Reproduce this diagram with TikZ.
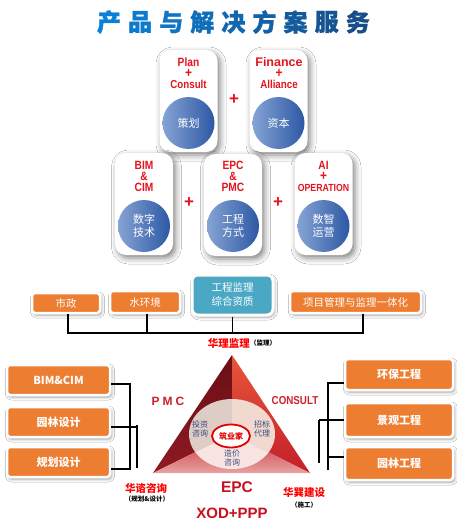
\documentclass[tikz,border=0pt]{standalone}
\usepackage{fontspec}
\setmainfont{Liberation Sans}
\newfontfamily\cjk{Noto Sans CJK SC}
\newfontfamily\cjkh[BoldFeatures={FakeBold=1.2}]{Noto Sans CJK SC}
\newfontfamily\cond[FakeStretch=0.85]{Liberation Sans}
\usetikzlibrary{shadows.blur,shapes.geometric}
\definecolor{cardred}{HTML}{E3151E}
\definecolor{tA}{HTML}{0B80D6}
\definecolor{tB}{HTML}{174E8A}
\definecolor{ballL}{HTML}{86A3D4}
\definecolor{ballR}{HTML}{2C58A4}
\definecolor{orangeC}{HTML}{ED7D31}
\definecolor{tealC}{HTML}{4BA8C4}
\definecolor{triL}{HTML}{8E1A22}
\definecolor{triLt}{HTML}{6A0E16}
\definecolor{triR}{HTML}{C41F2A}
\definecolor{triRt}{HTML}{E8553A}
\definecolor{triB}{HTML}{C52A33}
\definecolor{triBb}{HTML}{E9A2A2}
\definecolor{secL}{HTML}{DDCDC6}
\definecolor{secR}{HTML}{F1D9CF}
\definecolor{secB}{HTML}{F8E5E1}
\definecolor{innerTxt}{HTML}{3C4A7E}
\definecolor{darkred}{HTML}{C8101E}
\definecolor{pmcred}{HTML}{D0202A}
\newcommand{\cplus}{{\fontsize{14}{11}\selectfont\bfseries +}}
\begin{document}
\begin{tikzpicture}[x=1pt,y=-1pt,
  card/.style={fill=white, rounded corners=11pt, minimum width=58pt, minimum height=102pt, inner sep=0pt,
    blur shadow={shadow xshift=2.5pt, shadow yshift=-3pt, shadow blur radius=6pt, shadow opacity=50}},
  ball/.style={circle, minimum size=52pt, inner sep=0pt, left color=ballL, right color=ballR,
    text=white, font=\cjk\fontsize{11}{12.5}\selectfont, align=center},
  cardtxt/.style={text=cardred, font=\cond\bfseries\fontsize{12}{11}\selectfont, inner sep=0pt, align=center},
  plus/.style={text=cardred, font=\bfseries\fontsize{17}{17}\selectfont, inner sep=0pt},
  obox/.style={fill=orangeC, draw=white, line width=2.5pt, rounded corners=3pt, inner sep=0pt,
    text=white, font=\cjk\fontsize{10.5}{12}\selectfont,
    blur shadow={shadow xshift=1.5pt, shadow yshift=-2pt, shadow blur radius=3pt, shadow opacity=40}},
  sbox/.style={obox, font=\cjk\bfseries\fontsize{11}{12}\selectfont},
  conn/.style={draw=black, line width=1.6pt},
  redlbl/.style={text=red, font=\cjk\bfseries\fontsize{10.5}{12}\selectfont, inner sep=0pt},
  smalllbl/.style={text=black, font=\cjk\bfseries\fontsize{6.5}{7}\selectfont, inner sep=0pt},
  intxt/.style={text=innerTxt, font=\cjk\fontsize{8}{8.8}\selectfont, align=center, inner sep=0pt}
]
\fill[white] (0,0) rectangle (457,524);
\useasboundingbox (0,0) rectangle (457,524);

% title
\foreach \c [count=\i from 0] in {产,品,与,解,决,方,案,服,务}{
  \pgfmathsetmacro\p{100-12.5*\i}
  \node[text=tA!\p!tB, font=\cjkh\bfseries\fontsize{24}{24}\selectfont, inner sep=0pt] (t\i) at (109+31.1*\i,22) {\c};
}

% top row cards
\node[card] (c1) at (188.5,101) {};
\node[card] (c2) at (278.5,101) {};
\node[ball] (b1) at (188.5,123) {策划};
\node[ball] (b2) at (278.5,123) {资本};
\node[cardtxt] (c1t) at (188.5,73) {Plan\\\cplus\\{\fontsize{11.5}{11}\selectfont Consult}};
\node[cardtxt] (c2t) at (279,73) {{\bfseries\fontsize{12.5}{11}\selectfont\normalfont\bfseries Finance}\\\cplus\\{\fontsize{11.5}{11}\selectfont Alliance}};
\node[plus] (p0) at (234,100) {+};

% second row cards
\node[card] (d1) at (144,204) {};
\node[card] (d2) at (233,205) {};
\node[card] (d3) at (323.5,204) {};
\node[ball] (e1) at (144,226) {数字\\技术};
\node[ball] (e2) at (233,226) {工程\\方式};
\node[ball] (e3) at (323.5,226) {数智\\运营};
\node[cardtxt] (d1t) at (144,176) {BIM\\\&\\CIM};
\node[cardtxt] (d2t) at (233,176) {EPC\\\&\\PMC};
\node[cardtxt] (d3t) at (323.5,176) {AI\\\cplus\\{\fontsize{10.3}{11}\selectfont OPERATION}};
\node[plus] (p1) at (189,203) {+};
\node[plus] (p2) at (278,203) {+};

% band boxes
\node[obox, minimum width=68pt, minimum height=20pt] (sz) at (66,303) {市政};
\node[obox, minimum width=70pt, minimum height=22pt] (shj) at (145,302) {水环境};
\node[obox, fill=tealC, rounded corners=6pt, line width=3pt, minimum width=81pt, minimum height=40pt,
  align=center, font=\cjk\fontsize{10.5}{14}\selectfont] (gc) at (232.5,295) {工程监理\\综合资质};
\node[obox, minimum width=131pt, minimum height=22pt] (xm) at (355.5,302) {项目管理与监理一体化};

\coordinate (h1) at (68,333);
\coordinate (h2) at (147,333);
\coordinate (h3) at (363,333);
\draw[conn] (h1 |- sz.south) -- (h1);
\draw[conn] (h2 |- shj.south) -- (h2);
\draw[conn] (gc.south) -- (gc.south |- h1);
\draw[conn] (h3 |- xm.south) -- (h3);
\draw[conn, line cap=rect] (h1) -- (h3);

\node[redlbl, anchor=east] (hl) at (250,343) {华理监理};
\node[smalllbl, anchor=west] (hls) at (hl.east) {（监理）};

% triangle
\coordinate (A) at (232,355);
\coordinate (B) at (153,473);
\coordinate (C) at (310,473);
\coordinate (O) at (232,434);
\shade[top color=triLt, bottom color=triL] (A) -- (O) -- (B) -- cycle;
\shade[top color=triRt, bottom color=triR] (A) -- (C) -- (O) -- cycle;
\shade[top color=triB, bottom color=triBb] (B) -- (O) -- (C) -- cycle;
\begin{scope}
  \clip (A) -- (O) -- (B) -- cycle;
  \fill[secL] (O) ellipse [x radius=43, y radius=35];
\end{scope}
\begin{scope}
  \clip (A) -- (C) -- (O) -- cycle;
  \fill[secR] (O) ellipse [x radius=43, y radius=35];
\end{scope}
\begin{scope}
  \clip (B) -- (O) -- (C) -- cycle;
  \fill[secB] (O) ellipse [x radius=43, y radius=35];
\end{scope}
\node[ellipse, fill=white, draw=red!90!black, line width=1.8pt, minimum width=38pt, minimum height=23pt, inner sep=0pt,
  text=red!90!black, font=\cjk\bfseries\fontsize{8}{8}\selectfont] (zy) at (231,436) {筑业家};
\node[intxt] (tz) at (200,429) {投资\\咨询};
\node[intxt] (zb) at (262,429) {招标\\代理};
\node[intxt] (zj) at (232,458) {造价\\咨询};

\node[text=pmcred, font=\bfseries\fontsize{12}{12}\selectfont, inner sep=0pt] (pmc) at (168,401) {P\hspace{3pt}M\hspace{3pt}C};
\node[text=pmcred, font=\cond\bfseries\fontsize{11.5}{12}\selectfont, inner sep=0pt] (cons) at (295,401) {CONSULT};
\node[text=darkred, font=\bfseries\fontsize{15.5}{16}\selectfont, inner sep=0pt] (epc) at (237,487) {EPC};
\node[text=darkred, font=\bfseries\fontsize{15}{16}\selectfont, inner sep=0pt] (xod) at (232,513) {XOD+PPP};

\node[redlbl] (hz) at (146,488) {华谘咨询};
\node[smalllbl] (hzs) at (147,499) {（规划\&设计）};
\node[redlbl] (hx) at (304,492) {华巽建设};
\node[smalllbl] (hxs) at (304,505.5) {（施工）};

% left boxes
\node[sbox, minimum width=103pt, minimum height=30pt] (bim) at (58.5,380) {\bfseries BIM\&CIM};
\node[sbox, minimum width=103pt, minimum height=30pt] (ylsj) at (58.5,422) {园林设计};
\node[sbox, minimum width=103pt, minimum height=30pt] (ghsj) at (58.5,462) {规划设计};
\coordinate (L1) at (130,384);
\coordinate (L2) at (137,427);
\coordinate (L3) at (130,469);
\coordinate (L2a) at (137,425);
\coordinate (L2b) at (137,468);
\draw[conn] (bim.east |- L1) -- (L1) -- (L3) -- (ghsj.east |- L3);
\draw[conn] (ylsj.east |- L2) -- (L2);
\draw[conn] (L2a) -- (L2b);

% right boxes
\node[sbox, minimum width=108pt, minimum height=31pt] (hb1) at (399,374.5) {环保工程};
\node[sbox, minimum width=108pt, minimum height=34pt] (jg) at (399,420) {景观工程};
\node[sbox, minimum width=108pt, minimum height=33pt] (yl) at (399,463.5) {园林工程};
\coordinate (R1) at (328,383);
\coordinate (R2) at (319,420);
\coordinate (R3) at (328,457);
\coordinate (R4) at (328,470);
\coordinate (R5) at (319,463);
\draw[conn] (R4) -- (R1) -- (hb1.west |- R1);
\draw[conn] (R2) -- (jg.west |- R2);
\draw[conn] (R3) -- (yl.west |- R3);
\draw[conn] (R2) -- (R5);
\end{tikzpicture}
\end{document}
